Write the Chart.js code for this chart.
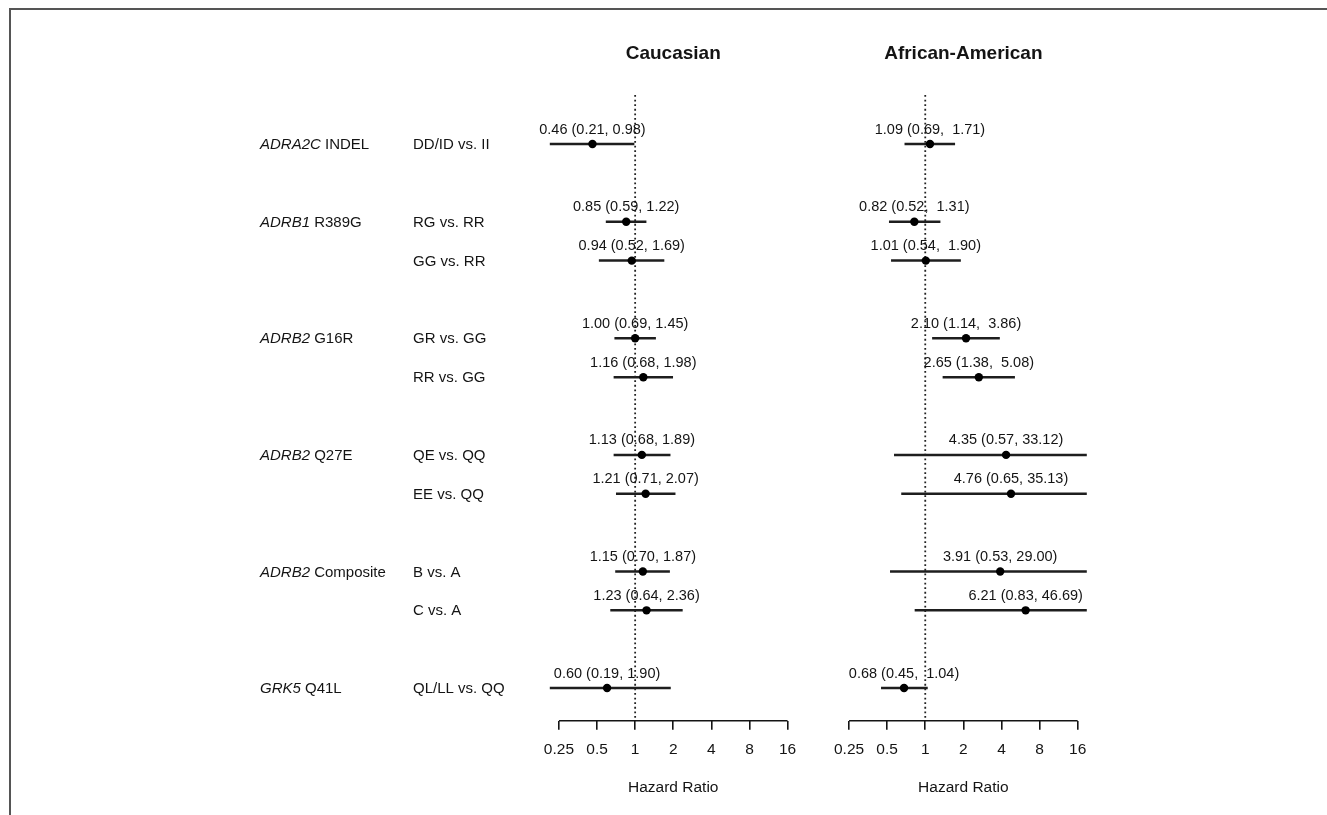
<!DOCTYPE html>
<html>
<head>
<meta charset="utf-8">
<script src="https://cdn.jsdelivr.net/npm/chart.js@4"></script>
<style>
  html, body { margin: 0; padding: 0; background: #fff; overflow: hidden; }
  #frame { position: absolute; left: 9px; top: 8px; width: 1400px; height: 900px;
           border-top: 2px solid #555; border-left: 2px solid #555; }
  canvas { position: absolute; top: 0; }
  #cau { left: 0; }
  #afr { left: 820px; }
</style>
</head>
<body>
<div id="frame"></div>
<canvas id="cau" width="820" height="815"></canvas>
<canvas id="afr" width="507" height="815"></canvas>
<script>
// row positions (0 = top), one per comparison
var rows = [0, 2, 3, 5, 6, 8, 9, 11, 12, 14];
var comparisons = ['DD/ID vs. II', 'RG vs. RR', 'GG vs. RR', 'GR vs. GG', 'RR vs. GG',
                   'QE vs. QQ', 'EE vs. QQ', 'B vs. A', 'C vs. A', 'QL/LL vs. QQ'];

// gene / variant labels
var genes = ['ADRA2C', 'ADRB1', 'ADRB2', 'ADRB2', 'ADRB2', 'GRK5'];
var variants = ['INDEL', 'R389G', 'G16R', 'Q27E', 'Composite', 'Q41L'];
var geneRows = [0, 2, 5, 8, 11, 14];

// Caucasian hazard ratios
var cauHR = [0.46, 0.85, 0.94, 1.00, 1.16, 1.13, 1.21, 1.15, 1.23, 0.60];
var cauLo = [0.21, 0.59, 0.52, 0.69, 0.68, 0.68, 0.71, 0.70, 0.64, 0.19];
var cauHi = [0.98, 1.22, 1.69, 1.45, 1.98, 1.89, 2.07, 1.87, 2.36, 1.90];

// African-American hazard ratios
var afrHR = [1.09, 0.82, 1.01, 2.10, 2.65, 4.35, 4.76, 3.91, 6.21, 0.68];
var afrLo = [0.69, 0.52, 0.54, 1.14, 1.38, 0.57, 0.65, 0.53, 0.83, 0.45];
var afrHi = [1.71, 1.31, 1.90, 3.86, 5.08, 33.12, 35.13, 29.00, 46.69, 1.04];

var tickVals = [0.25, 0.5, 1, 2, 4, 8, 16];
var tickLabels = ['0.25', '0.5', '1', '2', '4', '8', '16'];

var FONT = '"Liberation Sans", Arial, Helvetica, sans-serif';
var INK = '#141414';

function makePanel(canvasId, title, hr, lo, hi, padLeft, padRight, withLabels) {
    // width of the widest upper bound, used to pad like the original table
    var hiWidth = Math.max.apply(null, hi.map(function (v) { return v.toFixed(2).length; }));

    var annotate = {
        id: 'annotate',
        afterDatasetsDraw: function (chart) {
            var ctx = chart.ctx;
            var xs = chart.scales.x, ys = chart.scales.y;
            var area = chart.chartArea;
            ctx.save();
            ctx.fillStyle = INK;
            ctx.textAlign = 'center';
            ctx.textBaseline = 'middle';

            // panel title
            ctx.font = 'bold 19px ' + FONT;
            ctx.fillText(title, (area.left + area.right) / 2, 54);

            // HR (lo, hi) above each point
            ctx.font = '14.5px ' + FONT;
            for (var i = 0; i < rows.length; i++) {
                var txt = hr[i].toFixed(2) + ' (' + lo[i].toFixed(2) + ', ' +
                          hi[i].toFixed(2).padStart(hiWidth, ' ') + ')';
                ctx.fillText(txt, xs.getPixelForValue(hr[i]), ys.getPixelForValue(rows[i]) - 14.5);
            }

            // axis line from first to last tick
            ctx.strokeStyle = INK;
            ctx.lineWidth = 1.6;
            ctx.beginPath();
            ctx.moveTo(xs.getPixelForValue(tickVals[0]), area.bottom);
            ctx.lineTo(xs.getPixelForValue(tickVals[tickVals.length - 1]), area.bottom);
            ctx.stroke();

            // left-hand labels
            if (withLabels) {
                ctx.textAlign = 'left';
                ctx.font = '15px ' + FONT;
                for (var j = 0; j < comparisons.length; j++) {
                    ctx.fillText(comparisons[j], 413, ys.getPixelForValue(rows[j]) + 1);
                }
                for (var k = 0; k < genes.length; k++) {
                    var y = ys.getPixelForValue(geneRows[k]) + 1;
                    ctx.font = 'italic 15px ' + FONT;
                    ctx.fillText(genes[k], 260, y);
                    var w = ctx.measureText(genes[k] + ' ').width;
                    ctx.font = '15px ' + FONT;
                    ctx.fillText(variants[k], 260 + w, y);
                }
            }
            ctx.restore();
        }
    };

    return new Chart(document.getElementById(canvasId), {
        type: 'scatter',
        data: {
            datasets: [
                {
                    type: 'scatter',
                    data: rows.map(function (r, i) { return { x: hr[i], y: r }; }),
                    pointRadius: 4.2,
                    pointBackgroundColor: '#000',
                    pointBorderWidth: 0,
                    order: 0
                },
                {
                    type: 'bar',
                    indexAxis: 'y',
                    data: rows.map(function (r, i) { return { x: [lo[i], hi[i]], y: r }; }),
                    backgroundColor: '#1e1e1e',
                    barThickness: 1.8,
                    order: 1
                },
                {
                    type: 'line',
                    data: [{ x: 1, y: -1.26 }, { x: 1, y: 14.84 }],
                    borderColor: '#222',
                    borderWidth: 1.8,
                    borderDash: [1.8, 2.8],
                    pointRadius: 0,
                    order: 2
                }
            ]
        },
        options: {
            responsive: false,
            animation: false,
            events: [],
            layout: { padding: { left: padLeft, right: padRight, top: 93.5, bottom: 0 } },
            plugins: { legend: { display: false }, tooltip: { enabled: false } },
            scales: {
                x: {
                    type: 'logarithmic',
                    position: 'bottom',
                    min: 0.25 * Math.pow(2, -0.24),
                    max: 16 * Math.pow(2, 0.24),
                    afterBuildTicks: function (scale) {
                        scale.ticks = tickVals.map(function (v) { return { value: v }; });
                    },
                    afterFit: function (scale) { scale.height = 94.3; },
                    border: { display: false },
                    grid: { drawOnChartArea: false, drawTicks: true, tickLength: 9,
                            color: INK, lineWidth: 1.6, offset: false },
                    ticks: {
                        autoSkip: false,
                        maxRotation: 0,
                        padding: 11,
                        color: INK,
                        font: { family: FONT, size: 15.5 },
                        callback: function (v, i) { return tickLabels[i]; }
                    },
                    title: {
                        display: true,
                        text: 'Hazard Ratio',
                        color: INK,
                        font: { family: FONT, size: 15.5 },
                        padding: { top: 0, bottom: 17.5 }
                    }
                },
                y: {
                    type: 'linear',
                    display: false,
                    reverse: true,
                    offset: false,
                    min: -1.3,
                    max: 14.84
                }
            }
        },
        plugins: [annotate]
    });
}

makePanel('cau', 'Caucasian', cauHR, cauLo, cauHi, 549.8, 820 - 796.7, true);
makePanel('afr', 'African-American', afrHR, afrLo, afrHi, 839.9 - 820, 1327 - 1086.8, false);
</script>
</body>
</html>
